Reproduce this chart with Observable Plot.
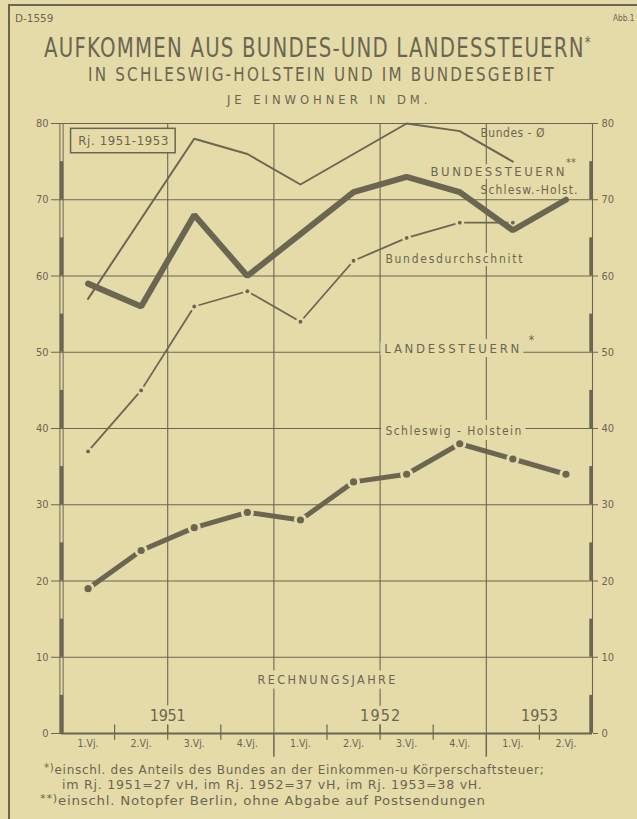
<!DOCTYPE html>
<html><head><meta charset="utf-8">
<script src="https://cdn.jsdelivr.net/npm/d3@7"></script>
<script src="https://cdn.jsdelivr.net/npm/@observablehq/plot@0.6"></script>
<style>
html,body{margin:0;padding:0;background:#e5dba9;}
#page{position:relative;width:637px;height:819px;overflow:hidden;background:#e5dba9;color:#6b6651;
 font-family:"DejaVu Sans Condensed","Liberation Sans Narrow","DejaVu Sans",sans-serif;font-stretch:condensed;}
.t{position:absolute;white-space:nowrap;line-height:1;transform-origin:0 50%;}
.t sup{font-size:0.6em;vertical-align:0.55em;line-height:0;}
.t sup.fn{font-size:0.85em;vertical-align:0.35em;}
.frame{position:absolute;background:#6b6651;}
#chart{position:absolute;left:0;top:110px;}
</style></head>
<body>
<div id="page">
 <div class="frame" style="left:8px;top:4px;width:1.6px;height:819px"></div>
 <div class="frame" style="left:8px;top:4px;width:640px;height:1.6px"></div>
 <div id="chart"></div>
</div>
<script>
// ---------- data ----------
const quarters = ["1.Vj.","2.Vj.","3.Vj.","4.Vj.","1.Vj.","2.Vj.","3.Vj.","4.Vj.","1.Vj.","2.Vj."];
const quarterYears = ["1951","1951","1951","1951","1952","1952","1952","1952","1953","1953"];
// Bundessteuern
const bundesOe = [57, 67.5, 78, 76, 72, 76, 80, 79, 75, null];          // Bundes-Ø
const bundesSH = [59, 56, 68, 60, 65.5, 71, 73, 71, 66, 70];             // Schlesw.-Holst.
// Landessteuern
const landesBund = [37, 45, 56, 58, 54, 62, 65, 67, 67, null];           // Bundesdurchschnitt
const landesSH = [19, 24, 27, 29, 28, 33, 34, 38, 36, 34];               // Schleswig-Holstein
const yTicks = [0, 10, 20, 30, 40, 50, 60, 70, 80];

const docCode = "D-1559";
const figNo = "Abb.1";
const title = "AUFKOMMEN AUS BUNDES-UND LANDESSTEUERN";
const subtitle = "IN SCHLESWIG-HOLSTEIN UND IM BUNDESGEBIET";
const unitLine = "JE EINWOHNER IN DM.";
const periodLabel = "Rj. 1951-1953";
const axisTitle = "RECHNUNGSJAHRE";
const seriesLabels = ["Bundes - Ø", "BUNDESSTEUERN", "Schlesw.-Holst.", "Bundesdurchschnitt", "LANDESSTEUERN", "Schleswig - Holstein"];
const footnotes = [
  ["*)", "einschl. des Anteils des Bundes an der Einkommen-u Körperschaftsteuer;"],
  ["", "im Rj. 1951=27 vH, im Rj. 1952=37 vH, im Rj. 1953=38 vH."],
  ["**)", "einschl. Notopfer Berlin, ohne Abgabe auf Postsendungen"]
];

// ---------- style ----------
const ink = "#6b6651";
const bg = "#e5dba9";
const FONT = '"DejaVu Sans Condensed","Liberation Sans Narrow","DejaVu Sans",sans-serif';

// ---------- html text ----------
const page = document.getElementById("page");
function addText(html, x, y, size, w, extra) {
  const el = document.createElement("span");
  el.className = "t";
  el.innerHTML = html;
  el.style.fontSize = size + "px";
  if (extra) Object.assign(el.style, extra);
  page.appendChild(el);
  el.style.left = x + "px";
  el.style.top = (y - 0.5 * size) + "px";
  if (w) el.style.transform = `scaleX(${w / el.offsetWidth})`;
  return el;
}
addText(docCode, 15, 18, 11, 38);
addText(figNo, 613, 18, 9, 22);
addText(title + "<sup>*</sup>", 44, 47, 27, 548, {letterSpacing: "1.5px"});
addText(subtitle, 88, 74, 19, 468, {letterSpacing: "2.5px"});
addText(unitLine, 227, 99, 13, 204, {letterSpacing: "4px"});
addText('<sup class="fn">' + footnotes[0][0] + "</sup>" + footnotes[0][1], 44, 771, 11.5, 501, {letterSpacing: "0.6px"});
addText(footnotes[1][1], 62, 786, 11.5, 420, {letterSpacing: "0.6px"});
addText('<sup class="fn">' + footnotes[2][0] + "</sup>" + footnotes[2][1], 40, 802, 11.5, 446, {letterSpacing: "0.6px"});

// ---------- chart ----------
const rows = quarters.map((q, i) => ({x: i + 0.5, q, year: quarterYears[i],
  bOe: bundesOe[i], bSH: bundesSH[i], lBund: landesBund[i], lSH: landesSH[i]}));
const def = k => rows.filter(d => d[k] != null);
const nQ = quarters.length;
const yearGroups = d3.groups(rows, d => d.year).map(([year, rs]) => ({year, x: d3.mean(rs, d => d.x), start: d3.min(rs, d => d.x) - 0.5}));
const yearBounds = yearGroups.slice(1).map(d => d.start);
const gridX = d3.range(2, nQ, 2);
const qTicks = d3.range(1, nQ).filter(v => !yearBounds.includes(v));
const halfBars = yTicks.slice(0, -1);

const lbl = (text, x, y, size, opts = {}) =>
  Plot.text([text], {x: () => x, y: () => y, text: d => d, fontSize: size, fill: ink, textAnchor: "start", ...opts});
// knock-out behind a label (background-coloured thick text), then the label itself
const knock = (text, x, y, size, sw) =>
  [lbl(text, x, y, size, {fill: bg, stroke: bg, strokeWidth: sw}), lbl(text, x, y, size)];

const chart = Plot.plot({
  width: 637, height: 650,
  marginTop: 13, marginBottom: 27, marginLeft: 61, marginRight: 45,
  x: {domain: [0, nQ], label: null},
  y: {domain: [0, 80], label: null},
  style: {background: "transparent", color: ink, fontFamily: FONT, overflow: "visible"},
  marks: [
    // Landessteuern dash-dot lines
    Plot.line(def("lSH"), {x: "x", y: "lSH", stroke: ink, strokeWidth: 5, strokeLinejoin: "round"}),
    Plot.line(def("lBund"), {x: "x", y: "lBund", stroke: ink, strokeWidth: 1.8}),
    Plot.dot(def("lSH"), {x: "x", y: "lSH", r: 6.5, fill: bg}),
    Plot.dot(def("lBund"), {x: "x", y: "lBund", r: 4.5, fill: bg}),
    Plot.dot(def("lSH"), {x: "x", y: "lSH", r: 3.6, fill: ink}),
    Plot.dot(def("lBund"), {x: "x", y: "lBund", r: 1.9, fill: ink}),
    // grid
    Plot.ruleY(yTicks.slice(1), {x1: 0, x2: nQ, stroke: ink, strokeWidth: 1.1}),
    Plot.ruleX(gridX, {y1: 0, y2: 80, stroke: ink, strokeWidth: 1.1}),
    // Bundessteuern lines
    Plot.line(def("bOe"), {x: "x", y: "bOe", stroke: ink, strokeWidth: 2}),
    Plot.line(def("bSH"), {x: "x", y: "bSH", stroke: ink, strokeWidth: 6, strokeLinejoin: "miter"}),
    // axis lines
    Plot.ruleX([0], {dx: -1.6, y1: 0, y2: 80, stroke: ink, strokeWidth: 1}),
    Plot.ruleX([0], {dx: 1.6, y1: 0, y2: 80, stroke: ink, strokeWidth: 1}),
    Plot.ruleX(halfBars, {x: 0, y1: d => d, y2: d => d + 5, stroke: ink, strokeWidth: 3.4}),
    Plot.ruleX([nQ], {y1: 0, y2: 80, stroke: ink, strokeWidth: 1.1}),
    Plot.ruleX(halfBars, {x: nQ, dx: -1.5, y1: d => d, y2: d => d + 5, stroke: ink, strokeWidth: 3.4}),
    Plot.ruleY([0], {x1: 0, x2: nQ, stroke: ink, strokeWidth: 2}),
    Plot.ruleX(qTicks, {y1: -0.9, y2: 1.1, stroke: ink, strokeWidth: 1.2}),
    Plot.ruleX(yearBounds, {y1: -3.1, y2: 0, stroke: ink, strokeWidth: 1.5}),
    // axes
    Plot.axisY(yTicks, {anchor: "left", tickSize: 10, tickPadding: 3, fontSize: 11, stroke: ink, fill: ink}),
    Plot.axisY(yTicks, {anchor: "right", tickSize: 5, tickPadding: 4, fontSize: 11, stroke: ink, fill: ink}),
    Plot.axisX(rows.map(d => d.x), {anchor: "bottom", tickSize: 0, tickPadding: 6, fontSize: 10.5,
      tickFormat: d => quarters[Math.floor(d)], fill: ink}),
    // year labels & axis title
    Plot.text(yearGroups, {x: "x", y: () => 0, dy: -18, text: "year", fontSize: 16, fill: bg, stroke: bg, strokeWidth: 8}),
    Plot.text(yearGroups, {x: "x", y: () => 0, dy: -18, text: "year", fontSize: 16, fill: ink}),
    ...knock(axisTitle, 3.69, 7, 12.5, 9),
    // period box
    Plot.rect([periodLabel], {x1: () => 0.18, x2: () => 2.15, y1: () => 76.1, y2: () => 79.3, fill: bg, stroke: ink, strokeWidth: 1.5}),
    Plot.text([periodLabel], {x: () => 1.165, y: () => 77.7, text: d => d, fontSize: 13, fill: ink}),
    // series labels
    lbl(seriesLabels[0], 7.89, 78.7, 12),
    ...knock(seriesLabels[1], 6.95, 73.7, 13, 6),
    lbl("**", 9.5, 74.9, 11),
    lbl(seriesLabels[2], 7.89, 71.2, 12),
    ...knock(seriesLabels[3], 6.1, 62.2, 12, 6),
    ...knock(seriesLabels[4], 6.08, 50.5, 13, 10),
    lbl("*", 8.8, 51.6, 12),
    ...knock(seriesLabels[5], 6.1, 39.6, 12, 10)
  ]
});
document.getElementById("chart").appendChild(chart);

// stretch the hand-lettered labels to their widths in the original
const labelWidths = new Map([
  [seriesLabels[0], 64], [seriesLabels[1], 134], [seriesLabels[2], 97], [seriesLabels[3], 137],
  [seriesLabels[4], 135], [seriesLabels[5], 136], [axisTitle, 138], [periodLabel, 90],
  ["1951", 36], ["1952", 40], ["1953", 37]
]);
d3.select(chart).selectAll("text").each(function () {
  const w = labelWidths.get(this.textContent);
  if (w) { this.setAttribute("textLength", w); this.setAttribute("lengthAdjust", "spacing"); }
});
</script>
</body></html>
